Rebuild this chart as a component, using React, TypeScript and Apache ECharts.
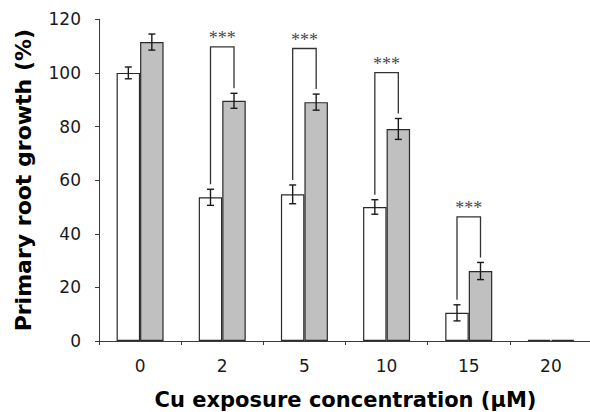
import React, { useEffect, useRef } from "react";
import * as echarts from "echarts";

const categories = ["0", "2", "5", "10", "15", "20"];
const controlMeans = [100, 53.6, 54.7, 50, 10.5, 0.4];
const controlErr = [2.2, 3, 3.5, 2.7, 3, 0];
const treatedMeans = [111.5, 89.6, 89.1, 79.1, 26.1, 0.4];
const treatedErr = [3, 2.8, 3, 3.9, 3.2, 0];
const sigCategories = [1, 2, 3, 4];
const sigBracketTop = [109.7, 109.1, 100.1, 46.3];
const sigLabel = "***";
const yTicks = { min: 0, max: 120, interval: 20 };

const BAR_FRAC = 0.286;

export default function App() {
  const ref = useRef<HTMLDivElement>(null);
  useEffect(() => {
    if (!ref.current) return;
    const chart = echarts.init(ref.current, undefined, { renderer: "svg" });
    const font = "DejaVu Sans, Verdana, sans-serif";

    const errRender = (offSign: number) => (params: any, api: any) => {
      const i = api.value(0);
      const v = api.value(1);
      const e = api.value(2);
      if (e <= 0) return null;
      const band = api.size([1, 0])[0];
      const cx = api.coord([i, v])[0] + offSign * band * BAR_FRAC / 2;
      const yTop = api.coord([i, v + e])[1];
      const yBot = api.coord([i, v - e])[1];
      const cap = 3.5;
      const style = { stroke: "#1a1a1a", lineWidth: 1.4 };
      return {
        type: "group",
        children: [
          { type: "line", shape: { x1: cx, y1: yTop, x2: cx, y2: yBot }, style },
          { type: "line", shape: { x1: cx - cap, y1: yTop, x2: cx + cap, y2: yTop }, style },
          { type: "line", shape: { x1: cx - cap, y1: yBot, x2: cx + cap, y2: yBot }, style },
        ],
      };
    };

    const bracketRender = (params: any, api: any) => {
      const i = api.value(0);
      const top = api.value(1);
      const lb = api.value(2);
      const rb = api.value(3);
      const band = api.size([1, 0])[0];
      const c = api.coord([i, top]);
      const xl = c[0] - band * BAR_FRAC / 2;
      const xr = c[0] + band * BAR_FRAC / 2;
      const yt = c[1];
      const gap = 5;
      const yl = api.coord([i, lb])[1] - gap;
      const yr = api.coord([i, rb])[1] - gap;
      return {
        type: "group",
        children: [
          {
            type: "polyline",
            shape: { points: [[xl, yl], [xl, yt], [xr, yt], [xr, yr]] },
            style: { stroke: "#333", lineWidth: 1.3, fill: "none" },
          },
          {
            type: "text",
            x: (xl + xr) / 2,
            y: yt - 9,
            style: {
              text: sigLabel,
              fill: "#4a4a4a",
              font: "18px 'Liberation Serif', serif",
              align: "center",
              verticalAlign: "middle",
            },
          },
        ],
      };
    };

    chart.setOption({
      animation: false,
      grid: {
        left: 99,
        top: 19.3,
        width: 493,
        bottom: 71,
        containLabel: false,
        outerBoundsMode: "none",
      },
      xAxis: {
        type: "category",
        data: categories,
        name: "Cu exposure concentration (μM)",
        nameLocation: "middle",
        nameGap: 48,
        nameTextStyle: { fontFamily: font, fontWeight: "bold", fontSize: 21, color: "#000" },
        axisLine: { lineStyle: { color: "#3a3a3a", width: 1 } },
        axisTick: { show: true, length: 4, lineStyle: { color: "#3a3a3a" } },
        axisLabel: { margin: 16, fontFamily: font, fontSize: 17, color: "#1a1a1a" },
      },
      yAxis: {
        type: "value",
        min: yTicks.min,
        max: yTicks.max,
        interval: yTicks.interval,
        name: "Primary root growth (%)",
        nameLocation: "middle",
        nameGap: 65,
        nameRotate: 90,
        nameTextStyle: { fontFamily: font, fontWeight: "bold", fontSize: 22, color: "#000" },
        splitLine: { show: false },
        axisLine: { show: true, lineStyle: { color: "#3a3a3a", width: 1 } },
        axisTick: { show: true, length: 4, lineStyle: { color: "#3a3a3a" } },
        axisLabel: { margin: 18, fontFamily: font, fontSize: 17, color: "#1a1a1a" },
      },
      series: [
        {
          type: "bar",
          data: controlMeans,
          barWidth: BAR_FRAC * 100 + "%",
          barGap: "0%",
          itemStyle: { color: "#ffffff", borderColor: "#2a2a2a", borderWidth: 1.2 },
          z: 2,
        },
        {
          type: "bar",
          data: treatedMeans,
          barWidth: BAR_FRAC * 100 + "%",
          barGap: "0%",
          itemStyle: { color: "#c0c0c0", borderColor: "#2a2a2a", borderWidth: 1.2 },
          z: 2,
        },
        {
          type: "custom",
          renderItem: errRender(-1),
          data: controlMeans.map((v, i) => [i, v, controlErr[i]]),
          z: 5,
        },
        {
          type: "custom",
          renderItem: errRender(1),
          data: treatedMeans.map((v, i) => [i, v, treatedErr[i]]),
          z: 5,
        },
        {
          type: "custom",
          renderItem: bracketRender,
          data: sigCategories.map((c, k) => [
            c,
            sigBracketTop[k],
            controlMeans[c] + controlErr[c],
            treatedMeans[c] + treatedErr[c],
          ]),
          z: 6,
        },
      ],
    });
    return () => chart.dispose();
  }, []);
  return <div ref={ref} style={{ width: 590, height: 412, position: "absolute", left: 0, top: 0 }} />;
}
